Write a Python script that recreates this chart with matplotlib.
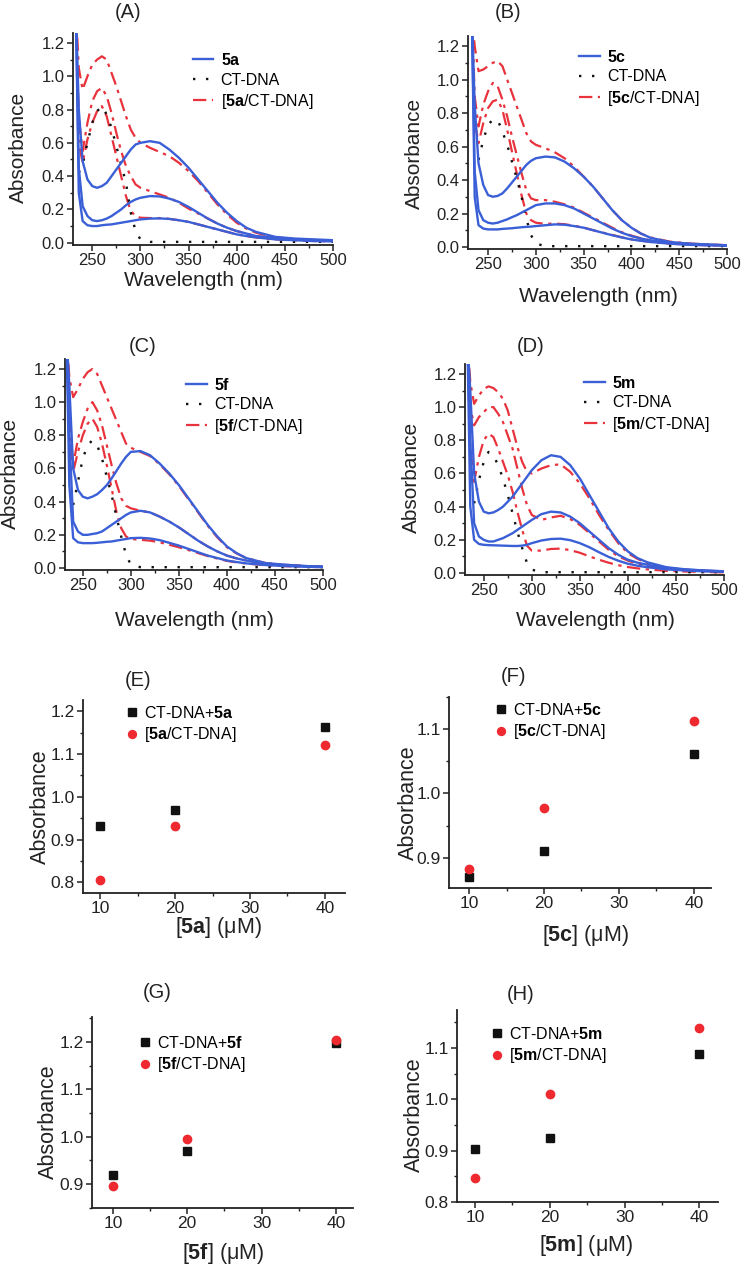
import matplotlib
matplotlib.use("Agg")
import matplotlib.pyplot as plt
from matplotlib.ticker import MultipleLocator, FormatStrFormatter

plt.rcParams['font.family'] = ['Liberation Sans', 'DejaVu Sans']
plt.rcParams['mathtext.fontset'] = 'custom'
plt.rcParams['mathtext.rm'] = 'Liberation Sans'
plt.rcParams['mathtext.bf'] = 'Liberation Sans:bold'
plt.rcParams['mathtext.it'] = 'Liberation Sans:italic'

nan = float('nan')

# wavelength grid (nm) shared by all spectra
WL = [233, 236, 240, 245, 250, 255, 260, 265, 270, 275, 280, 285, 290, 295,
      300, 310, 320, 330, 340, 350, 360, 370, 380, 390, 400, 410, 420, 440,
      460, 480, 500]

DNA_TAIL = [0.005] * 16

# (A) 5a
A_BLUE_1 = [1.40, 0.80, 0.49, 0.38, 0.34, 0.33, 0.34, 0.36, 0.40, 0.44, 0.48, 0.52, 0.56, 0.59, 0.60,
            0.61, 0.60, 0.56, 0.51, 0.45, 0.38, 0.31, 0.24, 0.18, 0.13, 0.09, 0.065, 0.035, 0.025, 0.02, 0.015]
A_BLUE_2 = [1.40, 0.45, 0.22, 0.16, 0.135, 0.13, 0.135, 0.145, 0.16, 0.18, 0.20, 0.225, 0.245, 0.26, 0.27,
            0.28, 0.278, 0.265, 0.245, 0.215, 0.18, 0.145, 0.115, 0.09, 0.07, 0.055, 0.04, 0.028, 0.02, 0.015, 0.012]
A_BLUE_3 = [1.40, 0.30, 0.13, 0.105, 0.10, 0.10, 0.105, 0.108, 0.11, 0.115, 0.12, 0.125, 0.13, 0.135, 0.14,
            0.145, 0.146, 0.143, 0.135, 0.125, 0.11, 0.095, 0.08, 0.065, 0.05, 0.04, 0.032, 0.02, 0.015, 0.01, 0.008]
A_DNA = [nan, 0.42, 0.47, 0.60, 0.72, 0.79, 0.82, 0.77, 0.69, 0.58, 0.47, 0.36, 0.18, 0.07, 0.02] + DNA_TAIL
A_RED_1 = [1.40, 1.05, 0.92, 1.00, 1.07, 1.10, 1.12, 1.10, 1.02, 0.94, 0.85, 0.76, 0.68, 0.63, 0.60,
           0.57, 0.545, 0.52, 0.48, 0.43, 0.37, 0.30, 0.23, 0.17, 0.12, 0.085, 0.06, 0.032, 0.022, 0.016, 0.012]
A_RED_2 = [1.40, 0.75, 0.55, 0.72, 0.85, 0.91, 0.93, 0.88, 0.78, 0.66, 0.55, 0.46, 0.40, 0.35, 0.33,
           0.31, 0.29, 0.27, 0.24, 0.205, 0.175, 0.145, 0.115, 0.09, 0.07, 0.055, 0.04, 0.028, 0.02, 0.015, 0.012]
A_RED_3 = [1.40, 0.60, 0.48, 0.62, 0.72, 0.79, 0.82, 0.76, 0.64, 0.52, 0.40, 0.28, 0.19, 0.16, 0.15,
           0.148, 0.148, 0.143, 0.135, 0.125, 0.11, 0.095, 0.08, 0.065, 0.05, 0.04, 0.032, 0.02, 0.015, 0.01, 0.008]

# (B) 5c
B_BLUE_1 = [1.40, 0.85, 0.50, 0.37, 0.31, 0.30, 0.305, 0.32, 0.35, 0.385, 0.42, 0.455, 0.49, 0.515, 0.53,
            0.54, 0.535, 0.51, 0.47, 0.42, 0.36, 0.29, 0.22, 0.16, 0.115, 0.08, 0.055, 0.03, 0.02, 0.015, 0.01]
B_BLUE_2 = [1.40, 0.45, 0.22, 0.16, 0.145, 0.14, 0.145, 0.155, 0.165, 0.178, 0.19, 0.205, 0.22, 0.235, 0.25,
            0.26, 0.26, 0.25, 0.23, 0.20, 0.17, 0.14, 0.11, 0.085, 0.065, 0.05, 0.04, 0.025, 0.018, 0.013, 0.01]
B_BLUE_3 = [1.40, 0.30, 0.13, 0.11, 0.105, 0.105, 0.105, 0.108, 0.11, 0.112, 0.115, 0.118, 0.12, 0.122, 0.125,
            0.13, 0.135, 0.133, 0.125, 0.115, 0.10, 0.085, 0.07, 0.057, 0.045, 0.037, 0.03, 0.02, 0.013, 0.01, 0.008]
B_DNA = [nan, nan, 0.52, 0.64, 0.73, 0.76, 0.76, 0.69, 0.61, 0.51, 0.41, 0.30, 0.17, 0.07, 0.02] + DNA_TAIL
B_RED_1 = [1.40, 1.20, 1.05, 1.06, 1.08, 1.10, 1.11, 1.08, 1.00, 0.92, 0.84, 0.76, 0.68, 0.63, 0.61,
           0.59, 0.565, 0.53, 0.48, 0.42, 0.36, 0.29, 0.22, 0.16, 0.115, 0.08, 0.057, 0.032, 0.021, 0.015, 0.011]
B_RED_2 = [1.40, 0.90, 0.72, 0.85, 0.93, 0.98, 0.96, 0.88, 0.78, 0.66, 0.55, 0.44, 0.34, 0.29, 0.28,
           0.28, 0.27, 0.255, 0.235, 0.205, 0.175, 0.145, 0.115, 0.088, 0.068, 0.052, 0.04, 0.026, 0.018, 0.013, 0.01]
B_RED_3 = [1.40, 0.75, 0.62, 0.74, 0.83, 0.87, 0.88, 0.82, 0.70, 0.57, 0.44, 0.31, 0.20, 0.16, 0.145,
           0.138, 0.14, 0.136, 0.127, 0.116, 0.10, 0.086, 0.072, 0.058, 0.046, 0.038, 0.03, 0.02, 0.014, 0.01, 0.008]

# (C) 5f
C_BLUE_1 = [1.40, 1.10, 0.60, 0.47, 0.43, 0.42, 0.43, 0.445, 0.47, 0.50, 0.54, 0.585, 0.63, 0.67, 0.70,
            0.705, 0.68, 0.63, 0.57, 0.50, 0.42, 0.34, 0.26, 0.19, 0.13, 0.09, 0.06, 0.03, 0.02, 0.012, 0.008]
C_BLUE_2 = [1.40, 0.80, 0.28, 0.22, 0.20, 0.20, 0.205, 0.21, 0.22, 0.24, 0.26, 0.28, 0.30, 0.32, 0.335,
            0.345, 0.335, 0.31, 0.28, 0.245, 0.205, 0.165, 0.13, 0.10, 0.075, 0.058, 0.045, 0.025, 0.018, 0.012, 0.008]
C_BLUE_3 = [1.40, 0.50, 0.18, 0.155, 0.15, 0.15, 0.15, 0.152, 0.155, 0.158, 0.16, 0.165, 0.17, 0.175, 0.18,
            0.182, 0.178, 0.168, 0.152, 0.135, 0.115, 0.095, 0.075, 0.06, 0.045, 0.036, 0.028, 0.018, 0.012, 0.008, 0.005]
C_DNA = [nan, nan, 0.38, 0.52, 0.66, 0.74, 0.77, 0.74, 0.66, 0.55, 0.44, 0.31, 0.19, 0.08, 0.02] + DNA_TAIL
C_RED_1 = [1.40, 1.15, 1.03, 1.08, 1.14, 1.18, 1.20, 1.17, 1.10, 1.03, 0.96, 0.89, 0.82, 0.75, 0.725,
           0.70, 0.675, 0.625, 0.565, 0.495, 0.415, 0.335, 0.255, 0.185, 0.125, 0.088, 0.06, 0.03, 0.02, 0.012, 0.008]
C_RED_2 = [1.40, 0.90, 0.62, 0.78, 0.88, 0.96, 1.00, 0.95, 0.86, 0.74, 0.62, 0.51, 0.42, 0.375, 0.36,
           0.345, 0.335, 0.31, 0.28, 0.245, 0.205, 0.165, 0.13, 0.10, 0.075, 0.058, 0.045, 0.025, 0.018, 0.012, 0.008]
C_RED_3 = [1.40, 0.80, 0.58, 0.70, 0.80, 0.87, 0.90, 0.85, 0.75, 0.62, 0.48, 0.34, 0.24, 0.19, 0.175,
           0.17, 0.165, 0.155, 0.14, 0.125, 0.108, 0.09, 0.072, 0.057, 0.043, 0.034, 0.027, 0.017, 0.011, 0.008, 0.005]

# (D) 5m
D_BLUE_1 = [1.40, 1.10, 0.60, 0.43, 0.37, 0.36, 0.365, 0.38, 0.40, 0.43, 0.46, 0.50, 0.54, 0.58, 0.62,
            0.68, 0.71, 0.70, 0.65, 0.57, 0.47, 0.37, 0.27, 0.19, 0.13, 0.09, 0.065, 0.035, 0.022, 0.015, 0.01]
D_BLUE_2 = [1.40, 0.80, 0.30, 0.22, 0.20, 0.19, 0.19, 0.20, 0.21, 0.225, 0.24, 0.26, 0.28, 0.30, 0.32,
            0.355, 0.37, 0.365, 0.34, 0.30, 0.25, 0.20, 0.15, 0.11, 0.08, 0.062, 0.05, 0.03, 0.02, 0.015, 0.01]
D_BLUE_3 = [1.40, 0.40, 0.20, 0.175, 0.17, 0.168, 0.167, 0.166, 0.165, 0.164, 0.163, 0.163, 0.165, 0.17, 0.18,
            0.196, 0.205, 0.207, 0.198, 0.18, 0.155, 0.125, 0.097, 0.074, 0.056, 0.044, 0.035, 0.022, 0.015, 0.01, 0.008]
D_DNA = [nan, nan, 0.42, 0.56, 0.67, 0.73, 0.71, 0.65, 0.57, 0.47, 0.36, 0.25, 0.15, 0.06, 0.02] + DNA_TAIL
D_RED_1 = [1.40, 1.15, 1.02, 1.07, 1.11, 1.125, 1.115, 1.09, 1.05, 0.98, 0.87, 0.76, 0.67, 0.61, 0.60,
           0.63, 0.65, 0.655, 0.61, 0.54, 0.45, 0.35, 0.26, 0.18, 0.12, 0.085, 0.06, 0.03, 0.02, 0.012, 0.008]
D_RED_2 = [1.40, 1.00, 0.89, 0.94, 0.97, 1.00, 1.00, 0.96, 0.91, 0.83, 0.75, 0.63, 0.51, 0.41, 0.35,
           0.32, 0.335, 0.345, 0.325, 0.29, 0.24, 0.19, 0.14, 0.10, 0.075, 0.055, 0.042, 0.025, 0.017, 0.012, 0.008]
D_RED_3 = [1.40, 0.75, 0.55, 0.70, 0.80, 0.84, 0.82, 0.75, 0.67, 0.59, 0.49, 0.37, 0.26, 0.165, 0.135,
           0.135, 0.145, 0.147, 0.138, 0.122, 0.10, 0.08, 0.062, 0.047, 0.036, 0.028, 0.022, 0.013, 0.009, 0.006, 0.004]

# (E)-(H) absorbance vs concentration
CONC = [10, 20, 40]
E_DNA = [0.932, 0.969, 1.163]
E_CPLX = [0.805, 0.932, 1.120]
F_DNA = [0.870, 0.910, 1.061]
F_CPLX = [0.883, 0.977, 1.113]
G_DNA = [0.918, 0.969, 1.197]
G_CPLX = [0.895, 0.996, 1.204]
H_DNA = [0.903, 0.924, 1.089]
H_CPLX = [0.846, 1.010, 1.138]

W, H = 742, 1266
BLUE = '#3a5fd6'
RED = '#e8323c'
TXT = '#222222'

fig = plt.figure(figsize=(W / 100, H / 100), dpi=100)


def px_axes(l, r, t, b):
    return fig.add_axes([l / W, 1 - b / H, (r - l) / W, (b - t) / H])


def style(ax, tick_fs):
    for s in ['top', 'right']:
        ax.spines[s].set_visible(False)
    for s in ['left', 'bottom']:
        ax.spines[s].set_linewidth(1.3)
        ax.spines[s].set_color(TXT)
    ax.tick_params(which='major', direction='out', length=4, width=1.1,
                   labelsize=tick_fs, colors=TXT, pad=2)
    ax.tick_params(which='minor', direction='out', length=2.5, width=1.0, colors=TXT)


def place_labels(ax, xl, yl, xlab, ylab, fs):
    ax.set_xlabel(xlab, fontsize=fs, color=TXT, va='center', ha='center')
    ax.set_ylabel(ylab, fontsize=fs, color=TXT, va='center', ha='center')
    ax.xaxis.set_label_coords(xl[0] / W, 1 - xl[1] / H, transform=fig.transFigure)
    ax.yaxis.set_label_coords(yl[0] / W, 1 - yl[1] / H, transform=fig.transFigure)


def spectrum(box, xmin, blues, dna, reds, cmpd, title, tpos, xl, yl, leg):
    ax = px_axes(*box)
    style(ax, 12)
    dashdot = (0, (6, 2.5, 1.5, 2.5))
    for i, y in enumerate(reds):
        ax.plot(WL, y, color=RED, lw=1.6, ls=dashdot,
                label='[$\\mathbf{%s}$/CT-DNA]' % cmpd if i == 0 else None, zorder=2)
    ax.plot(WL, dna, color='#111111', lw=1.7, ls=(0, (1, 4.5)), label='CT-DNA', zorder=3)
    for i, y in enumerate(blues):
        ax.plot(WL, y, color=BLUE, lw=1.7,
                label='$\\mathbf{%s}$' % cmpd if i == 0 else None, zorder=4)
    ax.set_xlim(xmin, 500)
    ax.set_ylim(-0.012, 1.26)
    ax.xaxis.set_major_locator(MultipleLocator(50))
    ax.xaxis.set_minor_locator(MultipleLocator(25))
    ax.yaxis.set_major_locator(MultipleLocator(0.2))
    ax.yaxis.set_minor_locator(MultipleLocator(0.1))
    ax.yaxis.set_major_formatter(FormatStrFormatter('%.1f'))
    place_labels(ax, xl, yl, 'Wavelength (nm)', 'Absorbance', 15)
    h, lab = ax.get_legend_handles_labels()
    order = [2, 1, 0]
    ax.legend([h[k] for k in order], [lab[k] for k in order], loc='upper left',
              bbox_to_anchor=leg, frameon=False, fontsize=11.5, handlelength=1.3,
              handletextpad=0.45, labelspacing=0.28, borderpad=0, borderaxespad=0)
    fig.text(tpos[0] / W, 1 - tpos[1] / H, title, fontsize=14.5, color=TXT,
             ha='center', va='center')
    return ax


def titration(box, xlim, ylim, yticks, dna, cplx, cmpd, title, tpos, xl, yl, leg):
    ax = px_axes(*box)
    style(ax, 12.5)
    ax.plot(CONC, dna, ls='none', marker='s', ms=5.4, color='#111111',
            label='CT-DNA+$\\mathbf{%s}$' % cmpd, zorder=3)
    ax.plot(CONC, cplx, ls='none', marker='o', ms=6, color='#ee2a30', mec='#ee2a30',
            label='[$\\mathbf{%s}$/CT-DNA]' % cmpd, zorder=4)
    ax.set_xlim(*xlim)
    ax.set_ylim(*ylim)
    ax.set_xticks([10, 20, 30, 40])
    ax.xaxis.set_minor_locator(MultipleLocator(5))
    ax.set_yticks(yticks)
    ax.yaxis.set_minor_locator(MultipleLocator(0.05))
    ax.yaxis.set_major_formatter(FormatStrFormatter('%.1f'))
    place_labels(ax, xl, yl, '[$\\mathbf{%s}$] (μM)' % cmpd, 'Absorbance', 15.5)
    ax.legend(loc='upper left', bbox_to_anchor=leg, frameon=False, fontsize=11.5,
              handlelength=0.8, handletextpad=0.35, labelspacing=0.28, markerscale=0.95,
              borderpad=0, borderaxespad=0)
    fig.text(tpos[0] / W, 1 - tpos[1] / H, title, fontsize=14.5, color=TXT,
             ha='center', va='center')
    return ax


spectrum((73, 333, 33, 244.7), 230, [A_BLUE_1, A_BLUE_2, A_BLUE_3], A_DNA,
         [A_RED_1, A_RED_2, A_RED_3], '5a', '(A)', (128, 13), (203, 281), (18, 147), (0.46, 0.91))
spectrum((468, 727, 36, 249), 229, [B_BLUE_1, B_BLUE_2, B_BLUE_3], B_DNA,
         [B_RED_1, B_RED_2, B_RED_3], '5c', '(B)', (508, 13), (598, 296), (414, 153), (0.43, 0.94))
spectrum((65, 323, 359, 570), 231.5, [C_BLUE_1, C_BLUE_2, C_BLUE_3], C_DNA,
         [C_RED_1, C_RED_2, C_RED_3], '5f', '(C)', (143, 347), (194, 620), (10, 473), (0.47, 0.915))
spectrum((465, 724, 364, 575), 230.5, [D_BLUE_1, D_BLUE_2, D_BLUE_3], D_DNA,
         [D_RED_1, D_RED_2, D_RED_3], '5m', '(D)', (531, 347), (595, 620), (411, 477), (0.46, 0.948))

titration((83, 345, 700, 893), (7.7, 42.7), (0.775, 1.226), [0.8, 0.9, 1.0, 1.1, 1.2],
          E_DNA, E_CPLX, '5a', '(E)', (138, 680), (219, 928), (40, 807), (0.164, 0.974))
titration((449, 711, 697, 888), (7.3, 42.3), (0.853, 1.15), [0.9, 1.0, 1.1],
          F_DNA, F_CPLX, '5c', '(F)', (514, 677), (586, 935), (408, 803), (0.175, 0.974))
titration((92, 353, 1017, 1208), (7.2, 42.3), (0.849, 1.253), [0.9, 1.0, 1.1, 1.2],
          G_DNA, G_CPLX, '5f', '(G)', (157, 992), (223, 1253), (48, 1122), (0.18, 0.906))
titration((457, 718, 1010, 1202), (7.6, 42.5), (0.8, 1.174), [0.8, 0.9, 1.0, 1.1],
          H_DNA, H_CPLX, '5m', '(H)', (521, 995), (586, 1245), (414, 1115), (0.13, 0.917))

fig.savefig('out.png', dpi=100)
